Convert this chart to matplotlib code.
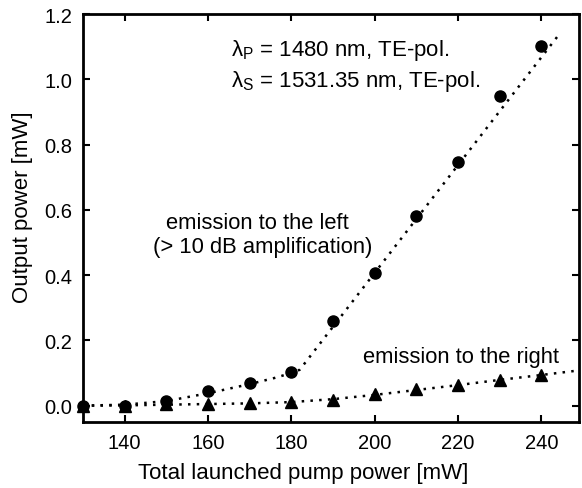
import matplotlib
matplotlib.use("Agg")
import matplotlib.pyplot as plt
import numpy as np

plt.rcParams['font.family'] = ['Liberation Sans', 'DejaVu Sans']
plt.rcParams['mathtext.fontset'] = 'custom'
plt.rcParams['mathtext.rm'] = 'Liberation Sans'
plt.rcParams['mathtext.it'] = 'Liberation Sans'

# Data
pump = [130, 140, 150, 160, 170, 180, 190, 200, 210, 220, 230, 240]
left_power = [0.0, 0.0, 0.015, 0.044, 0.068, 0.104, 0.258, 0.408, 0.58, 0.748, 0.95, 1.102]
right_power = [0.0, 0.0, 0.005, 0.006, 0.008, 0.01, 0.018, 0.035, 0.05, 0.064, 0.079, 0.095]

# Fit curves (dotted)
fit_left_x = [130, 140, 150, 160, 170, 176, 180, 182, 244.5]
fit_left_y = [0.0, 0.003, 0.014, 0.038, 0.066, 0.085, 0.1, 0.11, 1.142]
fit_right_x = [130, 140, 150, 160, 170, 180, 190, 200, 210, 220, 230, 240, 249]
fit_right_y = [0.0, 0.001, 0.003, 0.005, 0.007, 0.011, 0.02, 0.033, 0.048, 0.063, 0.079, 0.094, 0.108]

xticks = [140, 160, 180, 200, 220, 240]
yticks = [0.0, 0.2, 0.4, 0.6, 0.8, 1.0, 1.2]

fig = plt.figure(figsize=(5.82, 4.89), dpi=100)
ax = fig.add_axes([0.1426, 0.135, 0.8522, 0.8343])

ax.plot(fit_left_x, fit_left_y, ls=(0, (1, 2.5)), color='black', lw=1.8)
ax.plot(fit_right_x, fit_right_y, ls=(0, (1, 2.5)), color='black', lw=1.8)
ax.plot(pump, left_power, 'o', color='black', ms=8, clip_on=False)
ax.plot(pump, right_power, '^', color='black', ms=8.5, clip_on=False)

ax.set_xlim(130, 249)
ax.set_ylim(-0.05, 1.2)
ax.set_xticks(xticks)
ax.set_yticks(yticks)
ax.set_yticklabels([f"{v:.1f}" for v in yticks])
ax.tick_params(direction='in', top=True, right=True, length=5, width=1.5, labelsize=14.5)
ax.tick_params(axis='x', pad=8)
ax.tick_params(axis='y', pad=7.5)
for s in ax.spines.values():
    s.set_linewidth(2)

ax.set_xlabel("Total launched pump power [mW]", fontsize=16, va='center')
ax.set_ylabel("Output power [mW]", fontsize=16, va='center')
ax.xaxis.set_label_coords(0.4435, -0.125)
ax.yaxis.set_label_coords(-0.121, 0.529)

ax.text(165.6, 1.09, r"λ$_\mathrm{P}$ = 1480 nm, TE-pol.", fontsize=16, va='center')
ax.text(165.6, 0.995, r"λ$_\mathrm{S}$ = 1531.35 nm, TE-pol.", fontsize=16, va='center')
ax.text(150.0, 0.56, "emission to the left", fontsize=15.8, va='center')
ax.text(146.8, 0.487, "(> 10 dB amplification)", fontsize=15.8, va='center')
ax.text(197.3, 0.152, "emission to the right", fontsize=15.8, va='center')

fig.savefig("out.png", dpi=100)
